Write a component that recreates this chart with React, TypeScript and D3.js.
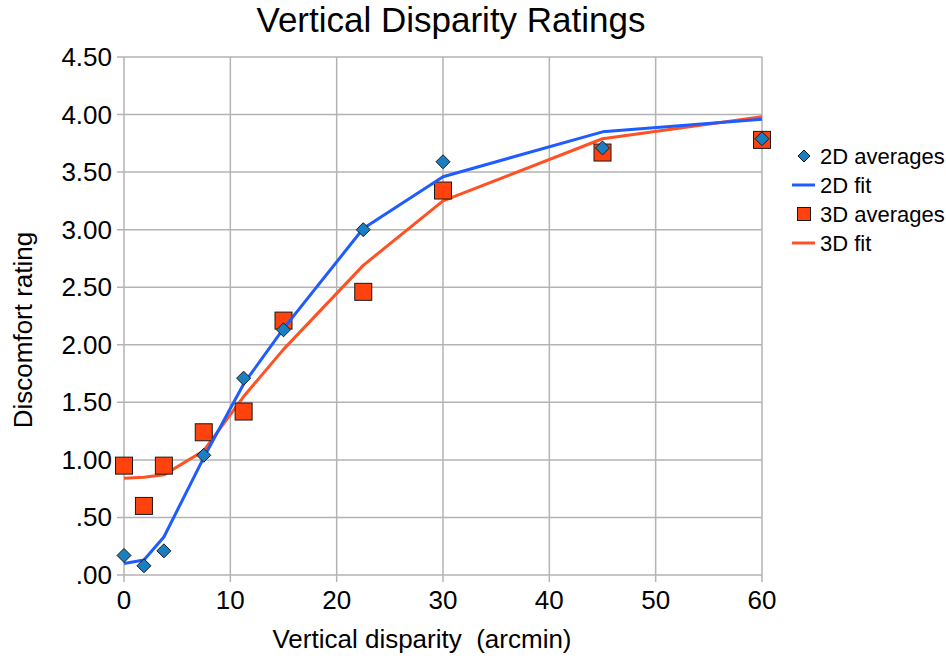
import React from 'react';
import * as d3 from 'd3';

// disparity levels (arcmin) shared by every series
const disparity = [0, 1.875, 3.75, 7.5, 11.25, 15, 22.5, 30, 45, 60];

const avg2D = [0.17, 0.08, 0.21, 1.04, 1.71, 2.13, 3.0, 3.59, 3.71, 3.79];
const fit2D = [0.1, 0.13, 0.33, 1.02, 1.66, 2.14, 3.01, 3.46, 3.85, 3.96];
const avg3D = [0.95, 0.6, 0.95, 1.24, 1.42, 2.21, 2.46, 3.34, 3.67, 3.78];
const fit3D = [0.84, 0.85, 0.87, 1.08, 1.55, 1.96, 2.69, 3.25, 3.79, 3.98];

const xTicks = [0, 10, 20, 30, 40, 50, 60];
const yTicks = [0, 0.5, 1, 1.5, 2, 2.5, 3, 3.5, 4, 4.5];

const legendItems = ['2D averages', '2D fit', '3D averages', '3D fit'];

const width = 946;
const height = 662;
const margin = { top: 57, right: 184, bottom: 87, left: 124 };

const FONT = '"Liberation Sans", Arial, sans-serif';
const GRID = '#b3b3b3';
const DIAMOND = '#1a7fc1';
const SQUARE = '#ff420e';
const BLUE_LINE = '#1f5cff';
const RED_LINE = '#ff5224';

const App = () => {
  const x = d3.scaleLinear().domain([0, 60]).range([margin.left, width - margin.right]);
  const y = d3.scaleLinear().domain([0, 4.5]).range([height - margin.bottom, margin.top]);

  // the fit lines are drawn as straight segments between the sampled levels
  const line = d3
    .line<number>()
    .x((_, i) => x(disparity[i]))
    .y((d) => y(d))
    .curve(d3.curveLinear);

  const fmtY = (d: number) => d3.format('.2f')(d).replace(/^0/, '');

  const x0 = x(0);
  const x1 = x(60);
  const y0 = y(0);
  const y1 = y(4.5);

  const diamond = (cx: number, cy: number, r: number) =>
    `M${cx},${cy - r}L${cx + r},${cy}L${cx},${cy + r}L${cx - r},${cy}Z`;

  const legendX = 804;
  const legendY = (i: number) => 156 + i * 29;

  return (
    <svg
      width={width}
      height={height}
      style={{ position: 'absolute', left: 0, top: 0, background: '#fff' }}
      fontFamily={FONT}
    >
      {/* title */}
      <text x={451} y={32} textAnchor="middle" fontSize={35} fill="#000">
        Vertical Disparity Ratings
      </text>

      {/* grid */}
      {yTicks.map((t) => (
        <g key={'gy' + t}>
          <line x1={x0 - 7} x2={x1} y1={y(t)} y2={y(t)} stroke={GRID} strokeWidth={1.5} />
          <text x={x0 - 12} y={y(t) + 9} textAnchor="end" fontSize={26} fill="#000">
            {fmtY(t)}
          </text>
        </g>
      ))}
      {xTicks.map((t) => (
        <g key={'gx' + t}>
          <line x1={x(t)} x2={x(t)} y1={y1} y2={y0 + 7} stroke={GRID} strokeWidth={1.5} />
          <text x={x(t)} y={609} textAnchor="middle" fontSize={26} fill="#000">
            {t}
          </text>
        </g>
      ))}

      {/* axis titles */}
      <text x={422} y={648} textAnchor="middle" fontSize={26} fill="#000">
        Vertical disparity{'\u00a0\u00a0'}(arcmin)
      </text>
      <text
        transform={`translate(32,330) rotate(-90)`}
        textAnchor="middle"
        fontSize={26}
        fill="#000"
      >
        Discomfort rating
      </text>

      {/* series */}
      <path
        d={line(fit3D) || ''}
        fill="none"
        stroke={RED_LINE}
        strokeWidth={3}
        strokeLinejoin="round"
      />
      {avg3D.map((v, i) => (
        <rect
          key={'s' + i}
          x={x(disparity[i]) - 8.5}
          y={y(v) - 8.5}
          width={17}
          height={17}
          fill={SQUARE}
          stroke="#1a1a1a"
          strokeWidth={1}
        />
      ))}
      <path
        d={line(fit2D) || ''}
        fill="none"
        stroke={BLUE_LINE}
        strokeWidth={3}
        strokeLinejoin="round"
      />
      {avg2D.map((v, i) => (
        <path
          key={'d' + i}
          d={diamond(x(disparity[i]), y(v), 7)}
          fill={DIAMOND}
          stroke="#1a1a1a"
          strokeWidth={1}
        />
      ))}

      {/* legend */}
      {legendItems.map((label, i) => {
        const cy = legendY(i);
        let sym: React.ReactNode;
        if (i === 0) sym = <path d={diamond(legendX, cy, 6)} fill={DIAMOND} stroke="#1a1a1a" />;
        else if (i === 2)
          sym = <rect x={legendX - 6.5} y={cy - 6.5} width={13} height={13} fill={SQUARE} stroke="#1a1a1a" />;
        else
          sym = (
            <line
              x1={legendX - 12}
              x2={legendX + 11}
              y1={cy}
              y2={cy}
              stroke={i === 1 ? BLUE_LINE : RED_LINE}
              strokeWidth={3}
            />
          );
        return (
          <g key={label}>
            {sym}
            <text x={820} y={cy + 8} fontSize={22} fill="#000">
              {label}
            </text>
          </g>
        );
      })}
    </svg>
  );
};

export default App;
